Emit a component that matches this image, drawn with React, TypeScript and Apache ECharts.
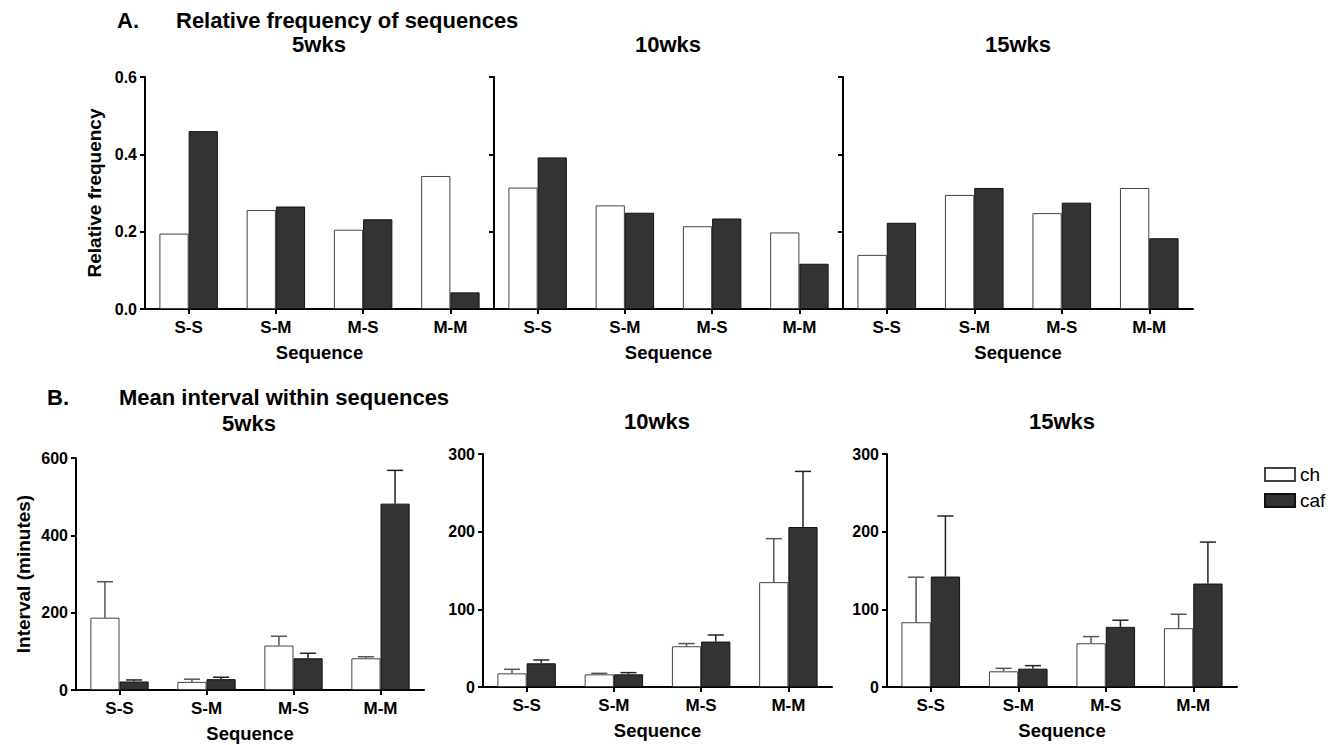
import React, { useEffect, useRef } from "react";
import * as echarts from "echarts";

const categories = ["S-S", "S-M", "M-S", "M-M"];
const weekLabels = ["5wks", "10wks", "15wks"];

const freq5Ch = [0.195, 0.256, 0.205, 0.344];
const freq5Caf = [0.46, 0.265, 0.232, 0.043];
const freq10Ch = [0.314, 0.268, 0.214, 0.198];
const freq10Caf = [0.392, 0.249, 0.234, 0.117];
const freq15Ch = [0.14, 0.295, 0.248, 0.313];
const freq15Caf = [0.223, 0.313, 0.275, 0.183];

const int5Ch = [187, 21, 115, 82];
const int5ChErr = [93, 7, 24, 4];
const int5Caf = [22, 28, 82, 482];
const int5CafErr = [4, 5, 13, 86];
const int10Ch = [17.6, 16.3, 52.5, 135];
const int10ChErr = [5.2, 1.3, 3.4, 56];
const int10Caf = [30.5, 16.3, 58.5, 206];
const int10CafErr = [4.3, 2.2, 8.5, 71.6];
const int15Ch = [83.4, 20.2, 56.3, 75.7];
const int15ChErr = [58, 3.8, 8.6, 18];
const int15Caf = [142.2, 23.6, 77.4, 133.2];
const int15CafErr = [78, 3.9, 8.6, 53.4];

const FONT = 'Arial, "Liberation Sans", sans-serif';
const CAT_GAP = 0.33;

const chStyle = { color: "#ffffff", borderColor: "#444444", borderWidth: 1 };
const cafStyle = { color: "#333333", borderColor: "#111111", borderWidth: 1 };

export default function App() {
  const ref = useRef<HTMLDivElement>(null);

  useEffect(() => {
    document.body.style.margin = "0";
    const chart = echarts.init(ref.current!, null, { renderer: "svg" });

    const grids = [
      { left: 145, top: 77, width: 349, height: 232 },
      { left: 494, top: 77, width: 349, height: 232 },
      { left: 843, top: 77, width: 350, height: 232 },
      { left: 76, top: 458, width: 348, height: 232 },
      { left: 483, top: 454, width: 349, height: 233 },
      { left: 887, top: 454, width: 350, height: 233 },
    ];

    const axisLine = { show: true, lineStyle: { color: "#000", width: 2 } };
    const labelStyle = { color: "#000", fontWeight: "bold" as const, fontFamily: FONT, fontSize: 16 };
    const nameStyle = { color: "#000", fontWeight: "bold" as const, fontFamily: FONT, fontSize: 18.5 };

    const xAxes = grids.map((_, i) => ({
      type: "category",
      gridIndex: i,
      data: categories,
      axisLine,
      axisTick: { show: true, alignWithLabel: true, length: 5, lineStyle: { color: "#000", width: 2 } },
      axisLabel: { ...labelStyle, fontSize: 17, margin: 10 },
      name: "Sequence",
      nameLocation: "middle",
      nameGap: 34,
      nameTextStyle: nameStyle,
      splitLine: { show: false },
    }));

    const yAxes = grids.map((_, i) => {
      const top = i < 3;
      const max = top ? 0.6 : i === 3 ? 600 : 300;
      const interval = top ? 0.2 : i === 3 ? 200 : 100;
      return {
        type: "value",
        gridIndex: i,
        min: 0,
        max,
        interval,
        axisLine,
        axisTick: { show: true, length: 5, lineStyle: { color: "#000", width: 2 } },
        axisLabel: {
          ...labelStyle,
          show: !(i === 1 || i === 2),
          margin: 8,
          formatter: (v: number) => (top ? v.toFixed(1) : String(v)),
        },
        splitLine: { show: false },
        name: i === 0 ? "Relative frequency" : i === 3 ? "Interval (minutes)" : "",
        nameLocation: "middle",
        nameGap: i === 0 ? 41 : 43,
        nameTextStyle: { ...nameStyle, fontSize: 19 },
      };
    });

    const freqPairs = [
      [freq5Ch, freq5Caf],
      [freq10Ch, freq10Caf],
      [freq15Ch, freq15Caf],
    ];
    const intPairs = [
      [int5Ch, int5ChErr, int5Caf, int5CafErr],
      [int10Ch, int10ChErr, int10Caf, int10CafErr],
      [int15Ch, int15ChErr, int15Caf, int15CafErr],
    ];

    const series: any[] = [];
    freqPairs.forEach(([ch, caf], i) => {
      series.push({
        type: "bar", name: "ch", xAxisIndex: i, yAxisIndex: i, data: ch,
        barGap: "0%", barCategoryGap: "33%", itemStyle: chStyle,
      });
      series.push({
        type: "bar", name: "caf", xAxisIndex: i, yAxisIndex: i, data: caf,
        barGap: "0%", barCategoryGap: "33%", itemStyle: cafStyle,
      });
    });

    const makeErr = (offset: number, stroke: string) => (params: any, api: any) => {
      const c = api.value(0);
      const v = api.value(1);
      const e = api.value(2);
      const p0 = api.coord([c, v]);
      const p1 = api.coord([c, v + e]);
      const band = api.size([1, 0])[0];
      const bw = (band * (1 - CAT_GAP)) / 2;
      const x = p0[0] + (offset * bw) / 2;
      const cap = bw * 0.55;
      const style = { stroke, lineWidth: 1.5 };
      return {
        type: "group",
        children: [
          { type: "line", shape: { x1: x, y1: p0[1], x2: x, y2: p1[1] }, style },
          { type: "line", shape: { x1: x - cap / 2, y1: p1[1], x2: x + cap / 2, y2: p1[1] }, style },
        ],
      };
    };

    intPairs.forEach(([ch, chErr, caf, cafErr], j) => {
      const g = j + 3;
      series.push({
        type: "bar", name: "ch", xAxisIndex: g, yAxisIndex: g, data: ch,
        barGap: "0%", barCategoryGap: "33%", itemStyle: chStyle,
      });
      series.push({
        type: "bar", name: "caf", xAxisIndex: g, yAxisIndex: g, data: caf,
        barGap: "0%", barCategoryGap: "33%", itemStyle: cafStyle,
      });
      series.push({
        type: "custom", name: "err-ch", xAxisIndex: g, yAxisIndex: g, z: 5,
        data: ch.map((v, k) => [k, v, chErr[k]]),
        encode: { x: 0, y: 1 },
        renderItem: makeErr(-1, "#555555"),
      });
      series.push({
        type: "custom", name: "err-caf", xAxisIndex: g, yAxisIndex: g, z: 5,
        data: caf.map((v, k) => [k, v, cafErr[k]]),
        encode: { x: 0, y: 1 },
        renderItem: makeErr(1, "#222222"),
      });
    });

    const titleFont = { fill: "#000", fontWeight: "bold", fontFamily: FONT, fontSize: 22 };
    const txt = (text: string, x: number, y: number, align: string = "center") => ({
      type: "text",
      x,
      y,
      style: { ...titleFont, text, textAlign: align, textVerticalAlign: "middle" },
    });

    chart.setOption({
      animation: false,
      backgroundColor: "#ffffff",
      grid: grids.map((g) => ({ ...g, containLabel: false })),
      xAxis: xAxes,
      yAxis: yAxes,
      legend: {
        data: ["ch", "caf"],
        orient: "vertical",
        left: 1259,
        top: 460,
        itemWidth: 30,
        itemHeight: 13,
        itemGap: 7,
        icon: "rect",
        selectedMode: false,
        textStyle: { color: "#000", fontFamily: FONT, fontSize: 19 },
      },
      graphic: [
        txt("A.", 117, 20, "left"),
        txt("Relative frequency of sequences", 176, 20, "left"),
        txt(weekLabels[0], 319, 44),
        txt(weekLabels[1], 668, 44),
        txt(weekLabels[2], 1018, 44),
        txt("B.", 47, 397, "left"),
        txt("Mean interval within sequences", 119, 397, "left"),
        txt(weekLabels[0], 249, 423),
        txt(weekLabels[1], 657, 421),
        txt(weekLabels[2], 1062, 421),
      ],
      series,
    });

    return () => chart.dispose();
  }, []);

  return <div ref={ref} style={{ width: 1338, height: 745 }} />;
}
